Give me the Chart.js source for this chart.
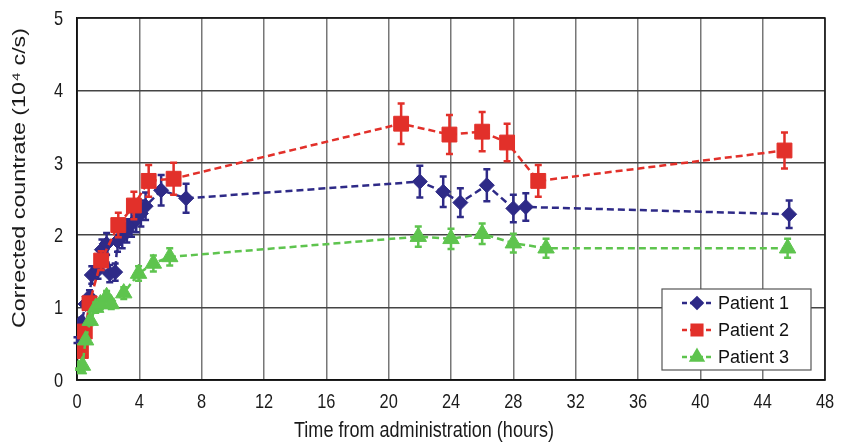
<!DOCTYPE html>
<html><head><meta charset="utf-8">
<script src="https://cdn.jsdelivr.net/npm/chart.js@4/dist/chart.umd.min.js"></script>
<style>html,body{margin:0;padding:0;background:#fff}</style>
</head><body>
<canvas id="c" width="850" height="442"></canvas>
<script>
// ---- data ----
const seriesNames = ['Patient 1', 'Patient 2', 'Patient 3'];
const xTickValues = [0, 4, 8, 12, 16, 20, 24, 28, 32, 36, 40, 44, 48];
const yTickValues = [0, 1, 2, 3, 4, 5];
const xTitle = 'Time from administration (hours)';
const yTitle = 'Corrected countrate (10\u2074 c/s)';

const p1Hours = [0.0, 0.3, 0.55, 0.8, 0.95, 1.35, 1.6, 1.9, 2.1, 2.45, 2.6, 2.9, 3.2, 3.5, 3.8, 4.1, 4.4, 5.4, 7.0, 22.0, 23.5, 24.6, 26.3, 28.0, 28.8, 45.7];
const p1Rate  = [0.55, 0.80, 1.05, 1.15, 1.45, 1.52, 1.80, 1.88, 1.47, 1.49, 1.92, 1.98, 2.06, 2.15, 2.22, 2.30, 2.40, 2.62, 2.51, 2.74, 2.60, 2.45, 2.69, 2.37, 2.39, 2.29];
const p1Err   = [0.04, 0.06, 0.08, 0.09, 0.12, 0.12, 0.14, 0.15, 0.12, 0.12, 0.15, 0.16, 0.16, 0.17, 0.18, 0.18, 0.19, 0.21, 0.20, 0.22, 0.21, 0.20, 0.22, 0.19, 0.19, 0.19];

const p2Hours = [0.25, 0.5, 0.8, 1.55, 2.65, 3.65, 4.6, 6.2, 20.8, 23.9, 26.0, 27.6, 29.6, 45.4];
const p2Rate  = [0.40, 0.67, 1.06, 1.65, 2.14, 2.41, 2.75, 2.78, 3.54, 3.39, 3.43, 3.28, 2.75, 3.17];
const p2Err   = [0.03, 0.05, 0.08, 0.13, 0.17, 0.19, 0.22, 0.22, 0.28, 0.27, 0.27, 0.26, 0.22, 0.25];

const p3Hours = [0.1, 0.35, 0.55, 0.85, 1.2, 1.5, 1.9, 2.2, 3.0, 3.95, 4.9, 5.95, 21.9, 24.0, 26.0, 28.0, 30.1, 45.6];
const p3Rate  = [0.15, 0.20, 0.55, 0.82, 1.00, 1.05, 1.15, 1.05, 1.20, 1.47, 1.61, 1.70, 1.98, 1.95, 2.02, 1.89, 1.82, 1.82];
const p3Err   = [0.01, 0.01, 0.04, 0.06, 0.07, 0.07, 0.08, 0.07, 0.08, 0.10, 0.11, 0.12, 0.14, 0.14, 0.14, 0.13, 0.13, 0.13];

// ---- styling ----
const colors = ['#2E2A87', '#E2302A', '#5EC44E'];
const styles = ['rectRot', 'rect', 'triangle'];
const radii = [7.5, 10.5, 9.5];
const legendRadii = [5.5, 7.5, 7];
const FONT = '"Liberation Sans", Arial, sans-serif';
const TEXT = '#1a1a1a';

function pts(xs, ys, es) { return xs.map((x, i) => ({x: x, y: ys[i], e: es[i]})); }
const allData = [pts(p1Hours, p1Rate, p1Err), pts(p2Hours, p2Rate, p2Err), pts(p3Hours, p3Rate, p3Err)];

const datasets = allData.map((d, i) => ({
  label: seriesNames[i],
  data: d,
  borderColor: colors[i],
  backgroundColor: colors[i],
  borderWidth: 2.5,
  borderDash: [7, 4],
  pointStyle: styles[i],
  pointRadius: radii[i],
  pointBorderWidth: 1,
  pointBorderColor: colors[i],
  pointBackgroundColor: colors[i],
  tension: 0,
  order: 2 - i
}));

const errorBars = {
  id: 'errorBars',
  beforeDatasetDraw(chart, args) {
    const ctx = chart.ctx, ys = chart.scales.y;
    const ds = chart.data.datasets[args.index];
    ctx.save();
    ctx.strokeStyle = ds.borderColor;
    ctx.lineWidth = 2.5;
    ctx.setLineDash([]);
    args.meta.data.forEach((el, j) => {
      const p = ds.data[j];
      const top = ys.getPixelForValue(p.y + p.e), bot = ys.getPixelForValue(p.y - p.e);
      ctx.beginPath();
      ctx.moveTo(el.x, top); ctx.lineTo(el.x, bot);
      ctx.moveTo(el.x - 3.5, top); ctx.lineTo(el.x + 3.5, top);
      ctx.moveTo(el.x - 3.5, bot); ctx.lineTo(el.x + 3.5, bot);
      ctx.stroke();
    });
    ctx.restore();
  }
};

// narrow-looking axis text (reference text is horizontally condensed)
function narrowText(ctx, text, x, y, size, sx, align) {
  ctx.save();
  ctx.translate(x, y);
  ctx.scale(sx, 1);
  ctx.font = size + 'px ' + FONT;
  ctx.fillStyle = TEXT;
  ctx.textAlign = align;
  ctx.textBaseline = 'middle';
  ctx.fillText(text, 0, 0);
  ctx.restore();
}

const axisText = {
  id: 'axisText',
  afterDraw(chart) {
    const ctx = chart.ctx, xs = chart.scales.x, ys = chart.scales.y;
    yTickValues.forEach(v => narrowText(ctx, String(v), 63, ys.getPixelForValue(v) + 1, 21, 0.78, 'right'));
    xTickValues.forEach(v => narrowText(ctx, String(v), xs.getPixelForValue(v), 402, 21, 0.78, 'center'));
    // x title: fit to reference width
    ctx.save();
    ctx.font = '22px ' + FONT;
    const wx = ctx.measureText(xTitle).width;
    ctx.restore();
    narrowText(ctx, xTitle, 424, 431, 22, 260 / wx, 'center');
    // y title: rotated, condensed across glyph height
    ctx.save();
    ctx.font = '23px ' + FONT;
    const wy = ctx.measureText(yTitle).width;
    ctx.translate(20, 178);
    ctx.scale(0.8, 300 / wy);
    ctx.rotate(-Math.PI / 2);
    ctx.fillStyle = TEXT;
    ctx.textAlign = 'center';
    ctx.textBaseline = 'middle';
    ctx.fillText(yTitle, 0, 0);
    ctx.restore();
  }
};

const frame = {
  id: 'frame',
  beforeDatasetsDraw(chart) {
    const {ctx, chartArea: a} = chart;
    ctx.save();
    ctx.strokeStyle = '#111';
    ctx.lineWidth = 1.5;
    ctx.strokeRect(a.left, a.top, a.right - a.left, a.bottom - a.top);
    ctx.restore();
  },
  afterDraw(chart) {
    const ctx = chart.ctx;
    const bx = 662, by = 289, bw = 149, bh = 81;
    ctx.save();
    ctx.fillStyle = '#fff';
    ctx.fillRect(bx, by, bw, bh);
    ctx.strokeStyle = '#555';
    ctx.lineWidth = 1.2;
    ctx.strokeRect(bx, by, bw, bh);
    const rowY = [303, 330, 357];
    seriesNames.forEach((name, i) => {
      const y = rowY[i];
      ctx.strokeStyle = colors[i];
      ctx.lineWidth = 2.5;
      ctx.setLineDash([5, 3]);
      ctx.beginPath();
      ctx.moveTo(682, y); ctx.lineTo(711, y);
      ctx.stroke();
      ctx.setLineDash([]);
      ctx.fillStyle = colors[i];
      Chart.helpers.drawPoint(ctx, {pointStyle: styles[i], radius: legendRadii[i], borderWidth: 1, rotation: 0}, 697, y);
      ctx.fill();
      ctx.fillStyle = '#111';
      ctx.font = '18px ' + FONT;
      ctx.textBaseline = 'middle';
      ctx.textAlign = 'left';
      ctx.fillText(name, 718, y + 1);
    });
    ctx.restore();
  }
};

new Chart(document.getElementById('c'), {
  type: 'line',
  data: {datasets: datasets},
  plugins: [errorBars, frame, axisText],
  options: {
    responsive: false,
    animation: false,
    layout: {padding: {top: 18, right: 25, left: 0, bottom: 0}},
    plugins: {legend: {display: false}, tooltip: {enabled: false}},
    scales: {
      x: {
        type: 'linear', min: 0, max: 48,
        afterFit(s) { s.height = 62; },
        afterBuildTicks(s) { s.ticks = xTickValues.map(v => ({value: v})); },
        ticks: {display: false},
        grid: {color: '#777', lineWidth: 1.5, drawTicks: false},
        border: {display: true, color: '#111', width: 1.5}
      },
      y: {
        min: 0, max: 5,
        afterFit(s) { s.width = 77; },
        afterBuildTicks(s) { s.ticks = yTickValues.map(v => ({value: v})); },
        ticks: {display: false},
        grid: {color: '#444', lineWidth: 1.5, drawTicks: false},
        border: {display: true, color: '#111', width: 1.5}
      }
    }
  }
});
</script>
</body></html>
